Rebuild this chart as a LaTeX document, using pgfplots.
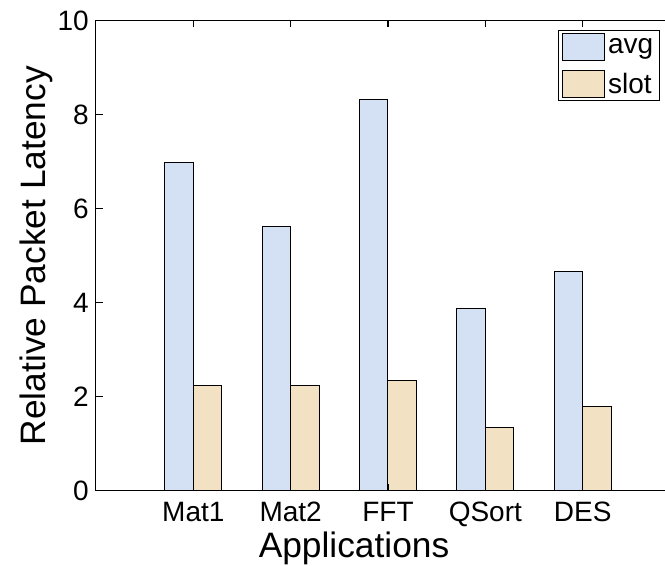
\documentclass[border=0pt]{standalone}
\usepackage{pgfplots}
\pgfplotsset{compat=1.18}
\usepackage{fontspec}
\setmainfont{Liberation Sans}
\definecolor{avgc}{RGB}{212,225,245}
\definecolor{slotc}{RGB}{243,225,196}
\pgfplotsset{my bar legend/.style={legend image code/.code={\draw[##1, line width=0.75pt] (0pt,-10pt) rectangle (31.5pt,10pt);}}}
\begin{document}
\begin{tikzpicture}
\begin{axis}[
  at={(0,0)}, anchor=origin,
  scale only axis,
  width=438pt, height=352.4pt,
  xmin=0, xmax=6, ymin=0, ymax=10,
  xtick={1,2,3,4,5},
  xticklabels={Mat1,Mat2,FFT,QSort,DES},
  ytick={0,2,4,6,8,10},
  xtick pos=both, ytick pos=both,
  tickwidth=5pt,
  xtick style={black, line width=0.8pt},
  ytick style={black, line width=0.8pt},
  axis line style={black, line width=0.75pt},
  axis on top,
  /pgf/number format/assume math mode=true,
  tick label style={font=\fontsize{21}{25}\selectfont},
  yticklabel style={inner sep=0pt, anchor=east, xshift=-5.25pt},
  xticklabel style={inner sep=0pt, anchor=base, yshift=-23.5pt},
  label style={font=\fontsize{26.5}{31}\selectfont},
  xlabel={Applications},
  ylabel={Relative Packet Latency},
  xlabel style={at={(axis description cs:0.4418,-0.1434)}, anchor=base, inner sep=0pt},
  ylabel style={at={(axis description cs:-0.1019,0.5)}, anchor=center, inner sep=0pt},
  legend style={at={(axis description cs:0.791,0.980)}, anchor=north west,
    draw=black, line width=0.75pt, fill=white,
    font=\fontsize{21}{25}\selectfont,
    inner xsep=3pt, inner ysep=2pt, row sep=7pt,
    nodes={inner sep=2pt}},
  legend cell align=left,
]
\addplot[ybar, bar width=0.293, bar shift=-0.1465, draw=black, line width=0.75pt, fill=avgc, my bar legend]
  coordinates {(1,6.98) (2,5.62) (3,8.33) (4,3.88) (5,4.66)};
\addlegendentry{avg}
\addplot[ybar, bar width=0.293, bar shift=0.1465, draw=black, line width=0.75pt, fill=slotc, my bar legend]
  coordinates {(1,2.24) (2,2.24) (3,2.34) (4,1.34) (5,1.79)};
\addlegendentry{slot}
\end{axis}
\pgfresetboundingbox
\path[use as bounding box] (-72pt,-56.55pt) rectangle (426.75pt,367.95pt);
\end{tikzpicture}
\end{document}
